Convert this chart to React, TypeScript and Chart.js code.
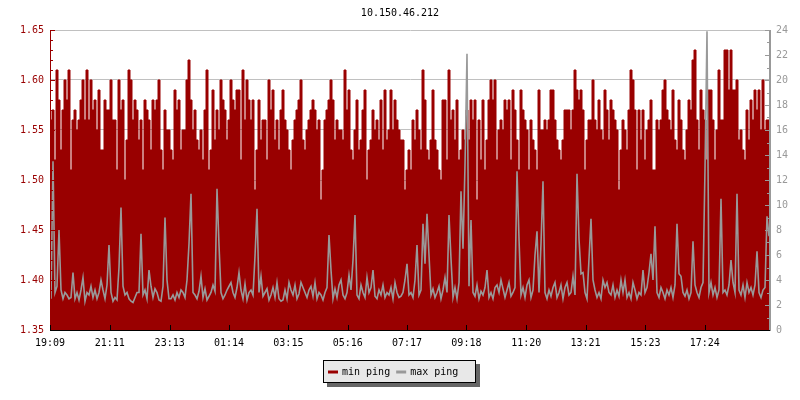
import React, { useEffect, useRef } from "react";
import { Chart, registerables } from "chart.js";

Chart.register(...registerables);

const chartTitle = "10.150.46.212";
const tickLabels = ["19:09", "21:11", "23:13", "01:14", "03:15", "05:16", "07:17", "09:18", "11:20", "13:21", "15:23", "17:24"];
const tickMinutes = [0, 122, 244, 365, 486, 607, 728, 849, 971, 1092, 1214, 1335];
const spanMinutes = 1468;

const minPing = [
  1.54,1.56,1.57,1.52,1.61,1.58,1.53,1.57,1.60,1.58, 1.61,1.51,1.56,1.57,1.55,1.56,1.58,1.60,1.56,1.61,
  1.56,1.60,1.57,1.58,1.55,1.59,1.53,1.53,1.58,1.57, 1.57,1.60,1.56,1.56,1.51,1.60,1.57,1.58,1.50,1.54,
  1.61,1.60,1.56,1.58,1.57,1.54,1.56,1.51,1.58,1.57, 1.56,1.53,1.58,1.57,1.58,1.60,1.53,1.51,1.57,1.55,
  1.55,1.53,1.52,1.59,1.57,1.58,1.53,1.55,1.55,1.60, 1.62,1.58,1.55,1.57,1.54,1.53,1.55,1.52,1.57,1.61,
  1.51,1.53,1.59,1.54,1.57,1.55,1.60,1.58,1.57,1.54, 1.56,1.60,1.58,1.57,1.59,1.59,1.52,1.61,1.56,1.60,
  1.58,1.56,1.58,1.49,1.53,1.58,1.54,1.56,1.56,1.52, 1.60,1.57,1.59,1.54,1.56,1.53,1.57,1.59,1.56,1.55,
  1.53,1.51,1.54,1.56,1.57,1.58,1.60,1.54,1.53,1.55, 1.56,1.57,1.58,1.57,1.55,1.56,1.48,1.51,1.56,1.57,
  1.58,1.60,1.58,1.54,1.56,1.55,1.55,1.54,1.61,1.57, 1.59,1.53,1.52,1.55,1.58,1.53,1.54,1.57,1.59,1.50,
  1.53,1.54,1.57,1.55,1.56,1.54,1.58,1.53,1.59,1.54, 1.55,1.59,1.55,1.58,1.56,1.55,1.54,1.54,1.49,1.51,
  1.53,1.51,1.56,1.54,1.57,1.55,1.53,1.61,1.58,1.53, 1.52,1.54,1.59,1.54,1.53,1.51,1.50,1.58,1.58,1.52,
  1.61,1.56,1.57,1.54,1.58,1.52,1.53,1.55,1.54,1.57, 1.54,1.58,1.56,1.58,1.48,1.56,1.52,1.58,1.51,1.54,
  1.58,1.60,1.58,1.60,1.52,1.55,1.56,1.55,1.58,1.57, 1.58,1.52,1.59,1.57,1.54,1.51,1.59,1.57,1.56,1.55,
  1.51,1.56,1.54,1.53,1.51,1.59,1.55,1.55,1.56,1.55, 1.56,1.59,1.59,1.56,1.54,1.53,1.52,1.54,1.57,1.57,
  1.57,1.55,1.57,1.61,1.59,1.58,1.59,1.57,1.51,1.54, 1.56,1.56,1.60,1.56,1.55,1.58,1.55,1.54,1.59,1.57,
  1.54,1.58,1.57,1.56,1.55,1.49,1.53,1.56,1.55,1.53, 1.57,1.61,1.60,1.57,1.51,1.57,1.54,1.57,1.52,1.55,
  1.56,1.58,1.51,1.51,1.56,1.55,1.56,1.59,1.60,1.57, 1.56,1.55,1.59,1.54,1.53,1.58,1.56,1.53,1.52,1.55,
  1.58,1.57,1.62,1.63,1.56,1.53,1.59,1.57,1.56,1.52, 1.59,1.59,1.56,1.52,1.55,1.61,1.56,1.56,1.63,1.63,
  1.59,1.63,1.59,1.59,1.60,1.54,1.55,1.53,1.52,1.57, 1.54,1.58,1.56,1.59,1.57,1.59,1.55,1.60,1.55,1.56,
];

const maxPing = [
  2.5,13.5,3.0,3.5,8.0,3.2,2.5,3.0,2.8,2.5, 2.6,4.6,2.5,3.0,2.4,3.2,4.2,2.3,3.0,2.8,
  3.5,2.6,3.2,2.5,3.0,4.0,3.2,2.5,3.6,6.8, 3.0,2.3,2.6,2.4,5.0,9.8,3.5,2.8,3.0,2.5,
  2.3,2.2,2.6,3.0,3.0,7.7,2.8,3.2,2.5,4.8, 3.5,2.6,3.3,3.0,2.4,2.3,3.5,9.0,4.0,2.5,
  2.5,2.8,2.4,3.0,2.6,3.2,3.0,2.6,4.0,6.9, 10.9,3.0,2.8,2.5,3.1,4.3,2.6,3.3,2.4,2.7,
  3.0,3.6,3.1,11.3,6.8,3.0,2.5,2.8,3.2,3.5, 3.8,3.0,2.6,3.4,4.6,3.2,2.5,3.7,2.4,3.0,
  3.2,2.8,5.9,9.7,3.0,4.3,2.7,3.0,3.3,2.4, 2.8,3.4,2.6,3.8,2.5,2.3,2.4,3.2,2.5,3.8,
  3.2,2.8,3.6,2.5,2.9,3.8,3.4,3.0,2.6,3.2, 3.5,2.7,3.8,2.5,3.0,2.8,2.4,3.0,3.4,7.6,
  4.8,2.5,3.3,2.6,3.6,4.0,2.8,2.5,3.0,4.4, 3.2,5.6,9.2,2.8,2.5,3.6,3.0,2.6,4.2,3.0,
  3.4,4.8,2.7,2.5,3.2,2.8,3.6,2.6,3.0,2.8, 3.4,2.5,3.8,3.0,2.6,2.7,3.0,4.0,5.3,2.8,
  3.0,2.6,4.0,6.8,2.8,3.2,8.5,5.3,9.3,6.0, 2.8,3.3,2.6,3.0,3.5,2.5,3.2,4.2,3.0,9.2,
  5.7,2.6,3.4,2.5,3.8,11.1,6.5,13.2,22.1,3.5, 8.8,3.0,2.7,3.6,2.5,3.1,2.8,3.4,4.8,2.6,
  3.0,2.5,3.4,3.6,3.0,4.0,3.3,2.6,3.2,3.8, 2.7,3.0,3.4,12.7,7.3,2.8,3.4,2.6,3.6,4.0,
  2.6,3.2,6.0,7.9,3.0,6.9,11.9,3.0,2.5,3.2, 2.7,3.4,3.8,2.6,3.0,3.6,2.5,3.4,3.8,2.8,
  3.0,4.3,2.8,12.5,7.3,4.5,4.6,3.0,2.5,5.7, 8.9,4.0,3.2,2.6,3.0,2.5,4.0,3.4,3.8,3.0,
  2.8,3.6,2.6,3.2,2.7,4.0,3.0,4.0,2.6,3.0, 2.5,3.8,3.2,2.5,3.0,2.8,4.8,3.0,3.4,4.6,
  6.1,4.0,8.3,3.0,2.6,3.4,3.0,2.5,3.2,2.8, 3.4,2.6,3.6,8.5,4.5,4.3,3.0,2.7,3.2,2.5,
  3.0,7.1,3.6,3.0,2.6,3.4,3.8,12.9,23.9,3.0, 3.8,2.8,3.4,2.6,3.2,10.5,3.0,3.2,2.8,3.6,
  5.6,3.8,3.0,10.9,3.2,2.8,3.6,2.6,3.8,3.0, 3.4,2.8,3.6,6.3,3.0,2.6,3.2,3.4,9.1,7.5,
];

const RED = "#990000";
const GREY = "#999999";
const FONT = "'DejaVu Sans Mono', monospace";

function toPoints(values: number[], closeEnd: boolean) {
  const step = spanMinutes / values.length;
  const pts = values.map((v, i) => ({ x: i * step + (closeEnd ? 0 : step / 2), y: v }));
  if (closeEnd) pts.push({ x: spanMinutes, y: values[values.length - 1] });
  return pts;
}

const decorPlugin = {
  id: "decor",
  afterDatasetsDraw(chart: any) {
    const ctx = chart.ctx as CanvasRenderingContext2D;
    const { left, right, top, bottom } = chart.chartArea;
    const yl = chart.scales.yL;
    const yr = chart.scales.yR;
    const xs = chart.scales.x;
    ctx.save();
    ctx.lineWidth = 1;
    const seg = (x1: number, y1: number, x2: number, y2: number) => {
      ctx.beginPath();
      ctx.moveTo(x1, y1);
      ctx.lineTo(x2, y2);
      ctx.stroke();
    };
    ctx.strokeStyle = RED;
    for (let i = 0; i <= 30; i++) {
      const py = Math.round(yl.getPixelForValue(1.35 + i * 0.01)) + 0.5;
      seg(left, py, left + (i % 5 === 0 ? 5 : 3), py);
    }
    seg(left + 0.5, top, left + 0.5, bottom);
    ctx.strokeStyle = GREY;
    for (let i = 0; i <= 24; i++) {
      const py = Math.round(yr.getPixelForValue(i)) + 0.5;
      seg(right, py, right - (i % 2 === 0 ? 5 : 3), py);
    }
    seg(right - 0.5, top, right - 0.5, bottom);
    ctx.strokeStyle = "#000";
    seg(left, bottom + 0.5, right, bottom + 0.5);
    for (const t of xs.ticks) {
      const px = Math.round(xs.getPixelForValue(t.value)) + 0.5;
      seg(px, bottom, px, bottom - 5);
    }
    ctx.restore();
  },
  afterDraw(chart: any) {
    const ctx = chart.ctx as CanvasRenderingContext2D;
    ctx.save();
    ctx.font = `10px ${FONT}`;
    ctx.fillStyle = "#000";
    ctx.textAlign = "center";
    ctx.textBaseline = "middle";
    ctx.fillText(chartTitle, 400, 13);

    const bx = 323, by = 360, bw = 153, bh = 23;
    ctx.fillStyle = "#666666";
    ctx.fillRect(bx + 4, by + 4, bw, bh);
    ctx.fillStyle = "#e8e8e8";
    ctx.fillRect(bx, by, bw, bh);
    ctx.strokeStyle = "#000";
    ctx.lineWidth = 1;
    ctx.strokeRect(bx + 0.5, by + 0.5, bw - 1, bh - 1);
    ctx.textAlign = "left";
    let x = bx + 5;
    const cy = by + bh / 2;
    chart.data.datasets.forEach((ds: any) => {
      ctx.fillStyle = ds.borderColor;
      ctx.fillRect(x, cy - 1, 10, 3);
      x += 14;
      ctx.fillStyle = "#000";
      ctx.fillText(ds.label, x, cy + 0.5);
      x += ctx.measureText(ds.label).width + 6;
    });
    ctx.restore();
  },
};

export default function App() {
  const canvasRef = useRef<HTMLCanvasElement | null>(null);

  useEffect(() => {
    const canvas = canvasRef.current;
    if (!canvas) return;
    Chart.defaults.font.family = FONT;
    Chart.defaults.font.size = 10;
    const chart = new Chart(canvas, {
      type: "line",
      data: {
        datasets: [
          {
            label: "min ping",
            data: toPoints(minPing, true),
            yAxisID: "yL",
            borderColor: RED,
            backgroundColor: RED,
            borderWidth: 1,
            stepped: "after",
            fill: "start",
            pointRadius: 0,
            order: 2,
          },
          {
            label: "max ping",
            data: toPoints(maxPing, false),
            yAxisID: "yR",
            borderColor: GREY,
            backgroundColor: GREY,
            borderWidth: 1.6,
            tension: 0,
            fill: false,
            pointRadius: 0,
            order: 1,
          },
        ],
      },
      options: {
        responsive: false,
        animation: false,
        events: [],
        layout: { padding: { top: 30, left: 0, right: 0, bottom: 0 } },
        plugins: {
          legend: { display: false },
          title: { display: false },
          tooltip: { enabled: false },
        },
        scales: {
          x: {
            type: "linear",
            position: "bottom",
            min: 0,
            max: spanMinutes,
            afterBuildTicks: (scale: any) => {
              scale.ticks = tickMinutes.map((v) => ({ value: v }));
            },
            afterFit: (scale: any) => {
              scale.height = 70;
            },
            ticks: {
              autoSkip: false,
              maxRotation: 0,
              padding: 7,
              color: "#000",
              font: { family: FONT, size: 10 },
              callback: (value: any) => {
                const i = tickMinutes.indexOf(Number(value));
                return i >= 0 ? tickLabels[i] : "";
              },
            },
            grid: { display: false, drawTicks: false },
            border: { display: true, color: "#000" },
          },
          yL: {
            type: "linear",
            position: "left",
            min: 1.35,
            max: 1.65,
            afterFit: (scale: any) => {
              scale.width = 50;
            },
            ticks: {
              stepSize: 0.05,
              padding: 6,
              color: RED,
              font: { family: FONT, size: 10 },
              callback: (v: any) => Number(v).toFixed(2),
            },
            grid: { color: "#c0c0c0", drawTicks: false },
            border: { color: RED },
          },
          yR: {
            type: "linear",
            position: "right",
            min: 0,
            max: 24,
            afterFit: (scale: any) => {
              scale.width = 30;
            },
            ticks: {
              stepSize: 2,
              padding: 6,
              color: GREY,
              font: { family: FONT, size: 10 },
            },
            grid: { drawOnChartArea: false, drawTicks: false },
            border: { color: GREY },
          },
        },
      },
      plugins: [decorPlugin],
    } as any);
    return () => chart.destroy();
  }, []);

  return (
    <div style={{ position: "absolute", left: 0, top: 0, width: 800, height: 400, background: "#fff" }}>
      <canvas ref={canvasRef} width={800} height={400} style={{ display: "block", width: 800, height: 400 }} />
    </div>
  );
}
